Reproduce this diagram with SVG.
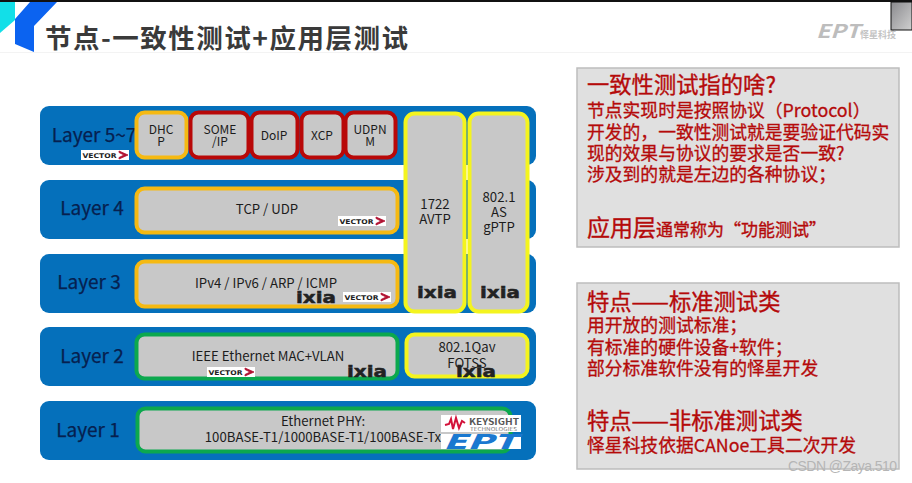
<svg xmlns="http://www.w3.org/2000/svg" width="912" height="483" viewBox="0 0 912 483">
<defs>
<linearGradient id="cornerGrad" x1="0" y1="0" x2="1" y2="1"><stop offset="0" stop-color="#8a8a8e"/><stop offset="1" stop-color="#d0d0d0"/></linearGradient>
<g id="vector"><rect x="0" y="0" width="48" height="10" fill="#fff"/><text x="1.5" y="8" style="font-family:'DejaVu Sans',sans-serif" font-weight="700" font-size="6.5" fill="#222" textLength="34" lengthAdjust="spacingAndGlyphs">VECTOR</text><path d="M38 1 L47 5 L38 9 L38 7.5 L43 5 L38 2.5 Z" fill="#b01030" stroke="#b01030" stroke-width=".8"/></g>
<g id="ixia"><text x="0" y="12" style="font-family:'DejaVu Sans',sans-serif" font-weight="700" font-size="16" fill="#222" stroke="#222" stroke-width=".5" textLength="40" lengthAdjust="spacingAndGlyphs">ixia</text></g>
</defs>
<style>
.bar{fill:#0570bb}
.box{fill:#c8c8c8;stroke-width:4}
.y{stroke:#f5b912}.r{stroke:#b80808}.g{stroke:#0ca84e}.l{stroke:#f4f41e}
text{font-family:"Noto Sans CJK SC","Noto Sans",sans-serif}
.layer{font-size:19px;fill:#06204f;stroke:#06204f;stroke-width:.25;text-anchor:middle}
.t{font-size:13.2px;fill:#1c1c1c;text-anchor:middle}
.s{font-size:12px;fill:#1c1c1c;text-anchor:middle}
.panel{fill:#e0e0e0;stroke:#bdbdbd;stroke-width:1.5}
.h{font-size:22.3px;fill:#b50a0a;stroke:#b50a0a;stroke-width:.35}
.b{font-size:17.8px;fill:#b50a0a;stroke:#b50a0a;stroke-width:.3}
</style>
<rect width="912" height="483" fill="#fff"/>
<g id="header">
<rect x="0" y="0" width="912" height="2" fill="#111"/>
<polygon points="0,2 15,2 15,20 0,33" fill="#12dfe8"/>
<polygon points="30,2 57,2 34,26 34,52 15,44 15,19" fill="#0b63f0"/>
<text x="45" y="48" font-size="26.5" font-weight="700" fill="#3a3a3a" textLength="363" lengthAdjust="spacing">节点-一致性测试+应用层测试</text>
<rect x="0" y="52" width="912" height="1" fill="#f3f3f3"/>
<text x="816" y="38" font-size="19" font-weight="700" font-style="italic" fill="#bdbdbd" textLength="44" lengthAdjust="spacingAndGlyphs">EPT</text>
<text x="860" y="38" font-size="9" font-weight="700" fill="#c4c4c4">怿星科技</text>
<rect x="891" y="2" width="21" height="28" fill="url(#cornerGrad)" stroke="#111" stroke-width="1"/>
</g>
<g id="layer5-7"><rect class="bar" x="40" y="106" width="496" height="59" rx="9"/><text class="layer" x="94" y="142">Layer 5~7</text><use href="#vector" x="81" y="150"/></g>
<g id="layer4"><rect class="bar" x="40" y="180" width="496" height="59" rx="9"/><text class="layer" x="92" y="215">Layer 4</text></g>
<g id="layer3"><rect class="bar" x="40" y="254" width="496" height="59" rx="9"/><text class="layer" x="89" y="289">Layer 3</text></g>
<g id="layer2"><rect class="bar" x="40" y="327" width="496" height="59" rx="9"/><text class="layer" x="92" y="363">Layer 2</text></g>
<g id="layer1"><rect class="bar" x="40" y="401" width="496" height="59" rx="9"/><text class="layer" x="88" y="437">Layer 1</text></g>
<g id="dhcp"><rect class="box y" x="136.500" y="112.500" width="50" height="45" rx="8"/><text class="s" x="161" y="134">DHC</text><text class="s" x="161" y="146">P</text></g>
<g id="someip"><rect class="box r" x="190.500" y="112.500" width="58" height="45" rx="8"/><text class="s" x="220" y="134">SOME</text><text class="s" x="220" y="146">/IP</text></g>
<g id="doip"><rect class="box r" x="251.500" y="112.500" width="46" height="45" rx="8"/><text class="s" x="274" y="140">DoIP</text></g>
<g id="xcp"><rect class="box r" x="301.500" y="112.500" width="42" height="45" rx="8"/><text class="s" x="322" y="140">XCP</text></g>
<g id="udpnm"><rect class="box r" x="345.500" y="112.500" width="50" height="45" rx="8"/><text class="s" x="370" y="134">UDPN</text><text class="s" x="370" y="146">M</text></g>
<g id="tcp"><rect class="box y" x="136.500" y="188.500" width="261" height="44" rx="8"/><text class="t" x="267" y="214">TCP / UDP</text><use href="#vector" x="338" y="216"/></g>
<g id="ip"><rect class="box y" x="136.500" y="261.500" width="261" height="45" rx="8"/><text class="t" x="266" y="288">IPv4 / IPv6 / ARP / ICMP</text><use href="#ixia" x="296" y="291"/><use href="#vector" x="343" y="292"/></g>
<g id="avtp"><rect class="box l" x="405.500" y="113.500" width="59" height="198" rx="9"/><text class="t" x="435" y="209">1722</text><text class="t" x="435" y="224">AVTP</text><use href="#ixia" x="417" y="286"/></g>
<g id="gptp"><rect class="box l" x="469.500" y="113.500" width="58" height="198" rx="9"/><text class="t" x="499" y="202">802.1</text><text class="t" x="499" y="217">AS</text><text class="t" x="499" y="232">gPTP</text><use href="#ixia" x="480" y="286"/></g>
<g id="mac"><rect class="box g" x="136.500" y="334.500" width="261" height="44" rx="8"/><text class="t" x="268" y="361">IEEE Ethernet MAC+VLAN</text><use href="#vector" x="207" y="367"/><use href="#ixia" x="347" y="365"/></g>
<g id="fotss"><rect class="box l" x="406.500" y="334.500" width="121" height="42" rx="8"/><text class="t" x="467" y="352">802.1Qav</text><text class="t" x="467" y="368">FOTSS</text><use href="#ixia" x="456" y="365"/></g>
<g id="phy"><rect class="box g" x="137.500" y="408.500" width="373" height="43" rx="8"/><text class="t" x="323" y="426">Ethernet PHY:</text><text class="t" x="323" y="442">100BASE-T1/1000BASE-T1/100BASE-Tx</text>
<rect x="441" y="415" width="80" height="17" fill="#fff"/><polyline points="445,425 449,424 451,419 453,429 456,418 459,428 462,421 465,423" fill="none" stroke="#d3123a" stroke-width="2"/><text x="469" y="425" font-size="8.500" font-weight="700" fill="#555" textLength="50" lengthAdjust="spacingAndGlyphs">KEYSIGHT</text><text x="470" y="431" font-size="4.500" fill="#777" textLength="47" lengthAdjust="spacingAndGlyphs">TECHNOLOGIES</text>
<rect x="441" y="434" width="80" height="15" fill="#fff"/><text x="443" y="449" font-size="20" font-weight="900" font-style="italic" fill="#1a78d0" textLength="74" lengthAdjust="spacingAndGlyphs">EPT</text></g>
<g id="panel-top"><rect class="panel" x="577" y="68" width="322" height="179"/>
<text class="h" x="587" y="93">一致性测试指的啥?</text>
<text class="b" x="587" y="117">节点实现时是按照协议（Protocol）</text>
<text class="b" x="587" y="139">开发的，一致性测试就是要验证代码实</text>
<text class="b" x="587" y="160">现的效果与协议的要求是否一致?</text>
<text class="b" x="587" y="181">涉及到的就是左边的各种协议；</text>
<text x="587" y="236" font-size="23" fill="#b50a0a" stroke="#b50a0a" stroke-width=".35">应用层<tspan font-size="17">通常称为“功能测试”</tspan></text></g>
<g id="panel-bottom"><rect class="panel" x="577" y="283" width="322" height="186"/>
<text class="h" x="587" y="310">特点——标准测试类</text>
<text class="b" x="587" y="332">用开放的测试标准；</text>
<text class="b" x="587" y="354">有标准的硬件设备+软件；</text>
<text class="b" x="587" y="375">部分标准软件没有的怿星开发</text>
<text class="h" x="587" y="429">特点——非标准测试类</text>
<text class="b" x="587" y="452">怿星科技依据CANoe工具二次开发</text></g>
<text x="788" y="471" font-size="14" fill="#b5b5b5" textLength="109" style="font-family:'Liberation Sans',sans-serif">CSDN @Zaya.510</text>
</svg>
